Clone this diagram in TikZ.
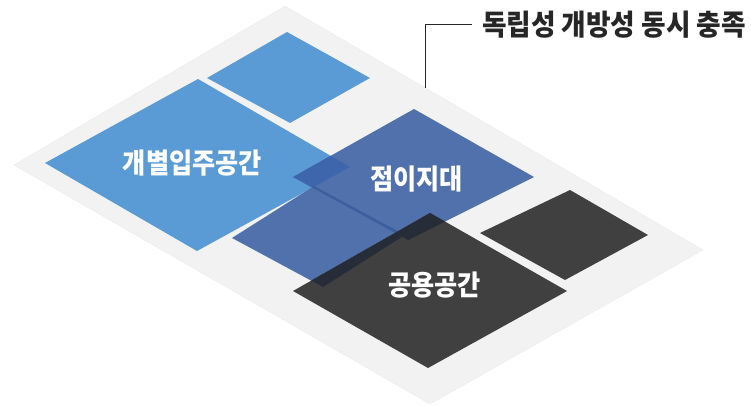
\documentclass[tikz,border=0pt]{standalone}
\usepackage{graphicx}
\usepackage{fontspec}
\newfontfamily\kr{Noto Sans CJK KR}
\definecolor{plategray}{HTML}{F2F2F2}
\definecolor{lightblue}{HTML}{5B9BD5}
\definecolor{navy}{HTML}{5171AC}
\definecolor{navyover}{HTML}{3E66AC}
\definecolor{navystrip}{HTML}{3D5E9C}
\definecolor{darkgray}{HTML}{404040}
\definecolor{darkover}{HTML}{262D39}
\definecolor{ink}{HTML}{262626}
\newcommand\narrowtxt[2]{\scalebox{#1}[1]{#2}}
\begin{document}
\begin{tikzpicture}[x=1pt,y=-1pt,
  lbl/.style={text=white, font=\kr\bfseries\fontsize{28}{32}\selectfont, inner sep=0pt},
  titlelbl/.style={text=ink, font=\kr\bfseries\fontsize{29}{33}\selectfont, inner xsep=10pt, inner ysep=0pt},
  leader/.style={draw=ink, line width=1pt}]
\useasboundingbox (0,0) rectangle (751,406);
% plate corners
\coordinate (P1) at (285,6);
\coordinate (P2) at (703,250);
\coordinate (P3) at (430,404);
\coordinate (P4) at (14,165);
% soft shadow of the plate
\foreach \d/\o in {1/0.05,2/0.045,3/0.04,4/0.03,5/0.02,6/0.012}{
  \fill[black,opacity=\o,shift={(0,\d)}] (P1) -- (P2) -- (P3) -- (P4) -- cycle;
}
\fill[plategray] (P1) -- (P2) -- (P3) -- (P4) -- cycle;
% small light-blue square
\coordinate (S1) at (287,32);
\coordinate (S2) at (370,78);
\coordinate (S3) at (290,123);
\coordinate (S4) at (207,78);
\fill[lightblue] (S1) -- (S2) -- (S3) -- (S4) -- cycle;
% big light-blue square
\coordinate (L1) at (198,79);
\coordinate (L2) at (350,167);
\coordinate (L3) at (197,251);
\coordinate (L4) at (45,163);
\fill[lightblue] (L1) -- (L2) -- (L3) -- (L4) -- cycle;
% navy A (upper)
\coordinate (A1) at (414,109);
\coordinate (A2) at (534,177);
\coordinate (A3) at (408,240);
\coordinate (A4) at (293,177);
% navy B (lower)
\coordinate (B1) at (314,186);
\coordinate (B2) at (405,235);
\coordinate (B3) at (323,287);
\coordinate (B4) at (232,238);
\fill[navy] (A1) -- (A2) -- (A3) -- (A4) -- cycle;
\fill[navy] (B1) -- (B2) -- (B3) -- (B4) -- cycle;
\begin{scope}
  \clip (A1) -- (A2) -- (A3) -- (A4) -- cycle;
  \fill[navyover] (L1) -- (L2) -- (L3) -- (L4) -- cycle;
  \fill[navystrip] (B1) -- (B2) -- (B3) -- (B4) -- cycle;
\end{scope}
% dark gray big square
\coordinate (G1) at (430,213);
\coordinate (G2) at (567,291);
\coordinate (G3) at (428,368);
\coordinate (G4) at (293,291);
\fill[darkgray] (G1) -- (G2) -- (G3) -- (G4) -- cycle;
\begin{scope}
  \clip (G1) -- (G2) -- (G3) -- (G4) -- cycle;
  \fill[darkover] (A1) -- (A2) -- (A3) -- (A4) -- cycle;
  \fill[darkover] (B1) -- (B2) -- (B3) -- (B4) -- cycle;
\end{scope}
% dark gray small square
\coordinate (H1) at (570,190);
\coordinate (H2) at (648,235);
\coordinate (H3) at (565,280);
\coordinate (H4) at (480,233);
\fill[darkgray] (H1) -- (H2) -- (H3) -- (H4) -- cycle;
% labels
\node[lbl] (indiv) at (192.5,163.5) {\narrowtxt{0.9}{개별입주공간}};
\node[lbl] (trans) at (416.5,179.5) {\narrowtxt{0.9}{점이지대}};
\node[lbl] (common) at (434.5,285) {\narrowtxt{0.9}{공용공간}};
% title and leader
\node[titlelbl] (title) at (614,25) {\narrowtxt{0.92}{독립성 개방성 동시 충족}};
\coordinate (lead) at (425,88);
\draw[leader] (lead) |- (title.west);
\end{tikzpicture}
\end{document}
